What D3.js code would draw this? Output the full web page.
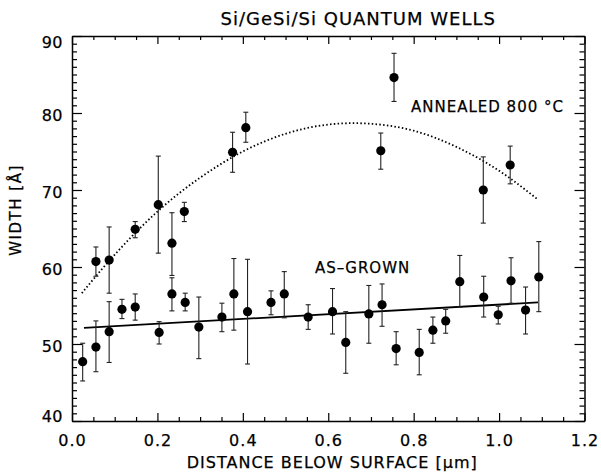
<!DOCTYPE html>
<html>
<head>
<meta charset="utf-8">
<script src="https://cdn.jsdelivr.net/npm/d3@7"></script>
<style>
  body { margin: 0; background: #fff; }
  svg { display: block; }
  text { font-family: "DejaVu Sans", sans-serif; fill: #000; stroke: #000; stroke-width: 0.25px; }
</style>
</head>
<body>
<svg id="chart" width="601" height="474"></svg>
<script>
// ---------- data ----------
const xTickLabels = [0.0, 0.2, 0.4, 0.6, 0.8, 1.0, 1.2];
const yTickLabels = [40, 50, 60, 70, 80, 90];

// As-grown samples: depth (µm), width (Å), error bar top, error bar bottom
const grownX   = [0.025,0.056,0.087,0.117,0.148,0.204,0.234,0.265,0.297,0.351,0.379,0.411,0.466,0.497,0.553,0.610,0.641,0.695,0.726,0.759,0.813,0.845,0.875,0.908,0.964,0.998,1.028,1.062,1.093];
const grownY   = [47.7,49.6,51.6,54.5,54.8,51.5,56.5,55.4,52.2,53.5,56.5,54.2,55.4,56.5,53.5,54.2,50.2,53.9,55.1,49.4,48.9,51.8,53.0,58.1,56.1,53.8,58.2,54.4,58.7];
const grownHi  = [50.1,53.0,55.5,55.8,56.5,52.9,58.6,56.6,56.1,55.3,61.1,61.0,56.9,59.4,55.1,57.2,54.2,57.6,57.8,51.6,51.9,53.5,54.5,61.5,58.8,54.9,61.2,57.4,63.3];
const grownLo  = [45.2,46.4,47.6,53.3,53.1,50.0,54.3,54.3,48.1,51.6,51.8,47.4,53.8,53.4,51.9,51.3,46.2,50.1,52.3,47.3,46.0,50.1,51.4,54.8,53.5,52.6,55.3,51.3,54.2];

// Annealed 800 °C samples
const annealX  = [0.056,0.087,0.148,0.202,0.234,0.263,0.376,0.407,0.723,0.754,0.963,1.026];
const annealY  = [60.7,60.9,64.9,68.1,63.1,67.2,74.9,78.1,75.1,84.6,70.0,73.25];
const annealHi = [62.6,65.2,65.9,74.4,67.05,68.4,77.5,80.1,77.4,87.75,74.3,75.7];
const annealLo = [58.8,56.6,63.8,61.8,58.9,65.9,72.3,76.2,72.7,81.5,65.7,70.8];

// Linear fit line (as-grown), endpoints
const grownFitX = [0.028, 1.091];
const grownFitY = [52.1, 55.4];

// Dotted fit curve (annealed)
const annealFitX = [0.023,0.1,0.2,0.3,0.4,0.5,0.6,0.7,0.8,0.9,1.0,1.09];
const annealFitY = [56.6,61.6,67.2,71.6,75.0,77.3,78.5,78.6,77.7,75.6,72.5,68.8];

// ---------- layout ----------
const svg = d3.select("#chart");
const pL = 72, pR = 584.5, pT = 36, pB = 421;
const x = d3.scaleLinear().domain([0, 1.2]).range([pL, pR]);
const y = d3.scaleLinear().domain([40, 90]).range([pB, pT]);

const xMinor = d3.range(0, 1.2001, 0.05).filter(v => Math.abs(v/0.2 - Math.round(v/0.2)) > 1e-6);
const yMinor = d3.range(40, 90.001, 1).filter(v => v % 10 !== 0);

function styleAxis(g) {
  g.selectAll("path.domain").attr("stroke", "#000").attr("stroke-width", 1.5);
  g.selectAll(".tick line").attr("stroke", "#000").attr("stroke-width", 1.2);
}

// bottom
const gB = svg.append("g").attr("transform", `translate(0,${pB})`)
  .call(d3.axisBottom(x).tickValues(xTickLabels).tickSize(-8).tickSizeOuter(0).tickPadding(14)
        .tickFormat(d3.format(".1f")));
gB.call(styleAxis);
gB.selectAll("text").attr("font-size", 16).attr("letter-spacing", 1).attr("font-family", "DejaVu Sans");
svg.append("g").attr("transform", `translate(0,${pB})`)
  .call(d3.axisBottom(x).tickValues(xMinor).tickSize(-4).tickSizeOuter(0).tickFormat(""))
  .call(styleAxis).select("path.domain").remove();

// top
svg.append("g").attr("transform", `translate(0,${pT})`)
  .call(d3.axisTop(x).tickValues(xTickLabels).tickSize(-8).tickSizeOuter(0).tickFormat(""))
  .call(styleAxis);
svg.append("g").attr("transform", `translate(0,${pT})`)
  .call(d3.axisTop(x).tickValues(xMinor).tickSize(-4).tickSizeOuter(0).tickFormat(""))
  .call(styleAxis).select("path.domain").remove();

// left
const gL = svg.append("g").attr("transform", `translate(${pL},0)`)
  .call(d3.axisLeft(y).tickValues(yTickLabels).tickSize(-10).tickSizeOuter(0).tickPadding(9)
        .tickFormat(d3.format("d")));
gL.call(styleAxis);
gL.selectAll("text").attr("font-size", 16).attr("letter-spacing", 0.5).attr("font-family", "DejaVu Sans")
  .attr("y", d => d === 90 ? 6 : (d === 40 ? -5 : 2));
svg.append("g").attr("transform", `translate(${pL},0)`)
  .call(d3.axisLeft(y).tickValues(yMinor).tickSize(-5).tickSizeOuter(0).tickFormat(""))
  .call(styleAxis).select("path.domain").remove();

// right
svg.append("g").attr("transform", `translate(${pR},0)`)
  .call(d3.axisRight(y).tickValues(yTickLabels).tickSize(-10).tickSizeOuter(0).tickFormat(""))
  .call(styleAxis);
svg.append("g").attr("transform", `translate(${pR},0)`)
  .call(d3.axisRight(y).tickValues(yMinor).tickSize(-5).tickSizeOuter(0).tickFormat(""))
  .call(styleAxis).select("path.domain").remove();

// ---------- fits ----------
svg.append("path")
  .datum(annealFitX.map((v, i) => [v, annealFitY[i]]))
  .attr("d", d3.line().x(d => x(d[0])).y(d => y(d[1])).curve(d3.curveNatural))
  .attr("fill", "none").attr("stroke", "#000").attr("stroke-width", 1.8)
  .attr("stroke-dasharray", "1.5 2.3");

svg.append("path")
  .datum(grownFitX.map((v, i) => [v, grownFitY[i]]))
  .attr("d", d3.line().x(d => x(d[0])).y(d => y(d[1])))
  .attr("fill", "none").attr("stroke", "#000").attr("stroke-width", 1.8);

// ---------- points with error bars ----------
function drawSeries(xs, ys, his, los) {
  const data = xs.map((v, i) => ({x: v, y: ys[i], hi: his[i], lo: los[i]}));
  const g = svg.append("g");
  const cap = 2.5;
  g.selectAll("line.eb").data(data).join("line").attr("class", "eb")
    .attr("x1", d => x(d.x)).attr("x2", d => x(d.x))
    .attr("y1", d => y(d.hi)).attr("y2", d => y(d.lo))
    .attr("stroke", "#222").attr("stroke-width", 1.1);
  g.selectAll("line.ct").data(data).join("line").attr("class", "ct")
    .attr("x1", d => x(d.x) - cap).attr("x2", d => x(d.x) + cap)
    .attr("y1", d => y(d.hi)).attr("y2", d => y(d.hi))
    .attr("stroke", "#222").attr("stroke-width", 1.1);
  g.selectAll("line.cb").data(data).join("line").attr("class", "cb")
    .attr("x1", d => x(d.x) - cap).attr("x2", d => x(d.x) + cap)
    .attr("y1", d => y(d.lo)).attr("y2", d => y(d.lo))
    .attr("stroke", "#222").attr("stroke-width", 1.1);
  g.selectAll("circle").data(data).join("circle")
    .attr("cx", d => x(d.x)).attr("cy", d => y(d.y)).attr("r", 4.6)
    .attr("fill", "#000");
}
drawSeries(grownX, grownY, grownHi, grownLo);
drawSeries(annealX, annealY, annealHi, annealLo);

// ---------- text ----------
svg.append("text").attr("x", (pL + pR) / 2 + 30).attr("y", 25)
  .attr("text-anchor", "middle").attr("font-size", 18).attr("letter-spacing", 1)
  .text("Si/GeSi/Si QUANTUM WELLS");

svg.append("text").attr("x", (pL + pR) / 2 + 4).attr("y", 468)
  .attr("text-anchor", "middle").attr("font-size", 16).attr("letter-spacing", 1)
  .text("DISTANCE BELOW SURFACE [\u03bcm]");

svg.append("text").attr("transform", `translate(21,210) rotate(-90)`)
  .attr("text-anchor", "middle").attr("font-size", 15).attr("letter-spacing", 1.5)
  .text("WIDTH [\u00c5]");

svg.append("text").attr("x", 411).attr("y", 112)
  .attr("font-size", 15).attr("letter-spacing", 1)
  .text("ANNEALED 800 \u00b0C");

svg.append("text").attr("x", 315).attr("y", 273)
  .attr("font-size", 15).attr("letter-spacing", 1)
  .text("AS\u2013GROWN");
</script>
</body>
</html>
